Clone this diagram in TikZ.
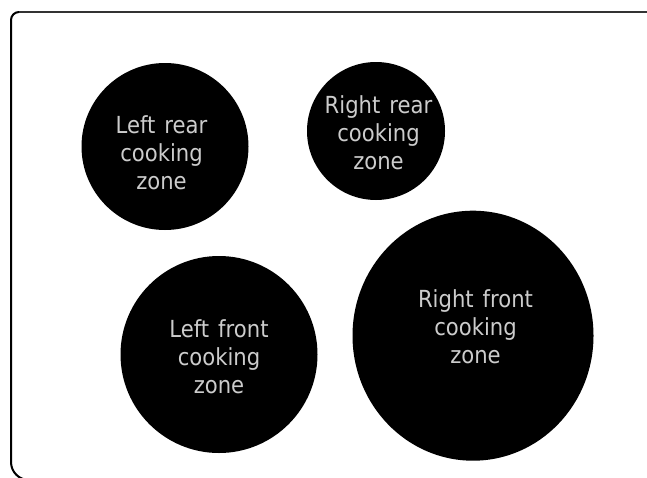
\documentclass[tikz,border=0pt]{standalone}
\usepackage{fontspec}
\usetikzlibrary{shapes.geometric}
\newfontfamily\zonefont[FakeStretch=0.9]{DejaVu Sans}
\newcommand\zonelabelfont{\zonefont\fontsize{23.5}{28}\selectfont\spaceskip 9pt plus 1pt\relax}
\definecolor{zonetext}{HTML}{CCCCCC}
\definecolor{frametop}{HTML}{333333}
\tikzset{
  zone/.style={circle, fill=black, draw=none, inner sep=0pt, minimum size=#1},
  bigzone/.style={ellipse, fill=black, draw=none, inner sep=0pt},
  zonelabel/.style={text=zonetext, align=center, inner sep=0pt,
    font=\zonelabelfont},
  frameline/.style={line width=2pt}
}
\begin{document}
\begin{tikzpicture}[x=1pt, y=-1pt]
\useasboundingbox (0,0) rectangle (647,477);
\fill[white] (0,0) rectangle (647,477);
% frame (continues beyond the right and bottom edges)
\begin{scope}
\clip (0,0) rectangle (647,477);
\draw[frameline, frametop] (660,12) -- (19,12);
\draw[frameline, black] (19,12) arc[start angle=90, end angle=180, radius=8pt]
  -- (11,462) arc[start angle=180, end angle=270, radius=18pt] -- (660,480);
\end{scope}
% cooking zones
\node[zone=167pt] (lr) at (165,146.5) {};
\node[zone=138pt] (rr) at (376,131) {};
\node[zone=197pt] (lf) at (219,354.5) {};
\node[bigzone, minimum width=241pt, minimum height=250pt] (rf) at (473,335.7) {};
% labels
\node[zonelabel] (lrt) at (161.5,152.5) {Left rear\\cooking\\zone};
\node[zonelabel] (rrt) at (378.5,132.5) {Right rear\\cooking\\zone};
\node[zonelabel] (lft) at (219,356.8) {Left front\\cooking\\zone};
\node[zonelabel] (rft) at (475.5,326.5) {Right front\\cooking\\zone};
\end{tikzpicture}
\end{document}
